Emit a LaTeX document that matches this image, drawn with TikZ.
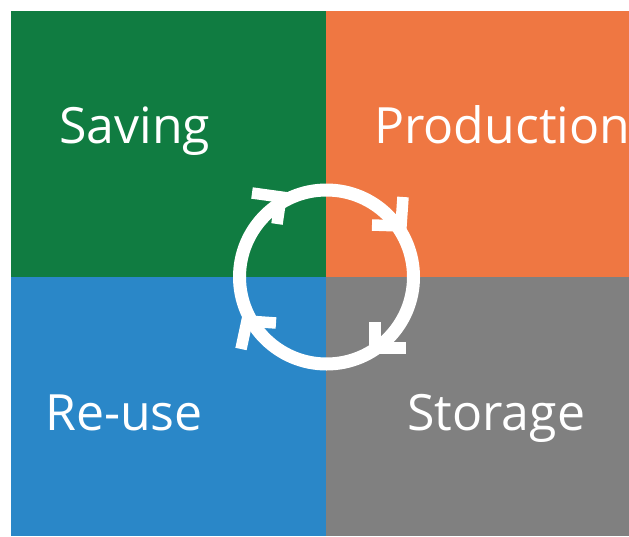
\documentclass[tikz,border=0pt]{standalone}
\usepackage{fontspec}
\setmainfont{Open Sans}
\definecolor{qgreen}{RGB}{16,124,65}
\definecolor{qorange}{RGB}{239,119,66}
\definecolor{qblue}{RGB}{42,135,200}
\definecolor{qgray}{RGB}{128,128,128}
\begin{document}
\begin{tikzpicture}[x=1pt,y=-1pt,
  label/.style={text=white,inner sep=0pt,anchor=base west,font=\fontsize{50}{50}\selectfont},
  ring/.style={draw=white,line width=13},
  barb/.style={draw=white,line width=11.5,line join=miter,line cap=butt}]
\useasboundingbox (0,0) rectangle (629,536);
\fill[white] (0,0) rectangle (629,536);
\fill[qgreen]  (10.5,10.5) rectangle (326,277);
\fill[qorange] (326,10.5) rectangle (629,277);
\fill[qblue]   (10.5,277) rectangle (326,536);
\fill[qgray]   (326,277) rectangle (629,536);
\node[label] (saving) at (59,143) {Saving};
\node[label] (production) at (374,143) {Production};
\node[label] (reuse) at (45,430) {Re-use};
\node[label] (storage) at (407,430) {Storage};
\coordinate (c) at (326.5,277);
\draw[ring] (c) circle[radius=87];
\draw[barb] (252,193) -- (281,197) -- (277,224);
\draw[barb] (372,225) -- (401,226) -- (403,197);
\draw[barb] (375,322) -- (375,348) -- (406,348);
\draw[barb] (241,349) -- (247,321) -- (276,323);
\end{tikzpicture}
\end{document}
